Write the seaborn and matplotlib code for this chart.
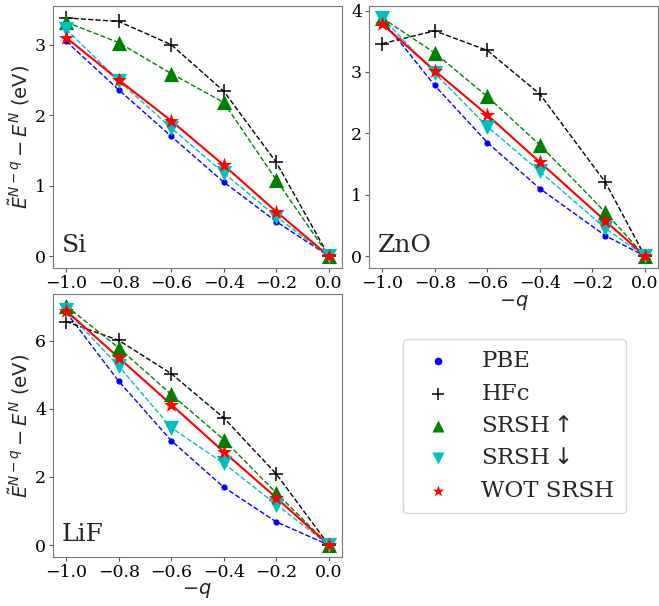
import numpy as np
import pandas as pd
import matplotlib
matplotlib.use("Agg")
import matplotlib.pyplot as plt
import seaborn as sns

# ---- data ----
methods = ["PBE", "HFc", r"SRSH$\uparrow$", r"SRSH$\downarrow$", "WOT SRSH"]

q_si = [-1.0, -0.8, -0.6, -0.4, -0.2, 0.0]
si_pbe = [3.05, 2.36, 1.70, 1.05, 0.49, 0.0]
si_hfc = [3.38, 3.33, 3.00, 2.34, 1.33, 0.0]
si_up = [3.32, 3.03, 2.59, 2.18, 1.08, 0.0]
si_down = [3.22, 2.49, 1.82, 1.18, 0.56, 0.0]
si_wot = [3.10, 2.50, 1.92, 1.29, 0.63, 0.0]

q_zno = [-1.0, -0.8, -0.6, -0.4, -0.15, 0.0]
zno_pbe = [3.85, 2.78, 1.85, 1.10, 0.33, 0.0]
zno_hfc = [3.46, 3.67, 3.35, 2.64, 1.20, 0.0]
zno_up = [3.88, 3.31, 2.60, 1.81, 0.71, 0.0]
zno_down = [3.88, 2.98, 2.11, 1.38, 0.45, 0.0]
zno_wot = [3.78, 3.02, 2.30, 1.53, 0.57, 0.0]

q_lif = [-1.0, -0.8, -0.6, -0.4, -0.2, 0.0]
lif_pbe = [6.85, 4.82, 3.07, 1.70, 0.68, 0.0]
lif_hfc = [6.57, 6.02, 5.04, 3.74, 2.09, 0.0]
lif_up = [7.03, 5.80, 4.43, 3.10, 1.53, 0.0]
lif_down = [6.90, 5.26, 3.45, 2.40, 1.19, 0.0]
lif_wot = [6.89, 5.51, 4.13, 2.74, 1.39, 0.0]

x_ticks = [-1.0, -0.8, -0.6, -0.4, -0.2, 0.0]

# style per method: colour, marker, marker size, line style, line width, legend size
styles = {
    "PBE": ("b", "o", 20, "--", 1.0, 30),
    "HFc": ("k", "+", 110, "--", 1.0, 80),
    r"SRSH$\uparrow$": ("g", "^", 120, "--", 1.0, 75),
    r"SRSH$\downarrow$": ("c", "v", 120, "--", 1.0, 75),
    "WOT SRSH": ("r", "*", 130, "-", 1.5, 75),
}

systems = [
    ("Si", q_si, [si_pbe, si_hfc, si_up, si_down, si_wot]),
    ("ZnO", q_zno, [zno_pbe, zno_hfc, zno_up, zno_down, zno_wot]),
    ("LiF", q_lif, [lif_pbe, lif_hfc, lif_up, lif_down, lif_wot]),
]

sns.set_style("ticks")
plt.rcParams["font.family"] = ["DejaVu Serif"]
plt.rcParams["axes.edgecolor"] = "#777777"
plt.rcParams["xtick.color"] = "#555555"
plt.rcParams["ytick.color"] = "#555555"
plt.rcParams["xtick.labelcolor"] = "black"
plt.rcParams["ytick.labelcolor"] = "black"

fig = plt.figure(figsize=(6.59, 6.06), dpi=100)
ax_pos = [
    [0.0804, 0.5578, 0.4385, 0.4323],
    [0.5600, 0.5578, 0.4385, 0.4323],
    [0.0804, 0.0809, 0.4385, 0.4340],
]

axes = []
for (name, q, series), pos in zip(systems, ax_pos):
    ax = fig.add_axes(pos)
    axes.append(ax)
    for m, y in zip(methods, series):
        col, mk, s, ls, lw, _ = styles[m]
        df = pd.DataFrame({"q": q, "E": y})
        sns.lineplot(data=df, x="q", y="E", color=col, linestyle=ls,
                     linewidth=lw, ax=ax, legend=False, sort=False)
        sns.scatterplot(data=df, x="q", y="E", color=col, marker=mk, s=s,
                        linewidth=1.1 if mk == "+" else 0, ax=ax, label=m,
                        zorder=3)
    ax.get_legend().remove()
    ax.text(0.03, 0.04, name, transform=ax.transAxes, fontsize=18,
            ha="left", va="bottom")
    ax.set_xticks(x_ticks)
    ax.tick_params(labelsize=12.5, length=3, pad=2)
    ax.set_xlabel("")
    ax.set_ylabel("")

ylab = r"$\tilde{E}^{N-q} - E^{N}$ (eV)"
axes[0].set_ylabel(ylab, fontsize=14, family="DejaVu Sans", labelpad=2)
axes[2].set_ylabel(ylab, fontsize=14, family="DejaVu Sans", labelpad=2)
axes[1].set_xlabel(r"$-q$", fontsize=14, labelpad=1)
axes[2].set_xlabel(r"$-q$", fontsize=14, labelpad=0)
axes[0].set_yticks([0, 1, 2, 3])
axes[1].set_yticks([0, 1, 2, 3, 4])
axes[2].set_yticks([0, 2, 4, 6])

handles, labels = axes[0].get_legend_handles_labels()
leg = fig.legend(handles, labels, loc="center", bbox_to_anchor=(0.781, 0.297),
                 fontsize=16.5, handletextpad=0.9, borderpad=0.5,
                 labelspacing=0.45, frameon=True)
for h, m in zip(leg.legend_handles, methods):
    h.set_sizes([styles[m][5]])

plt.savefig("out.png", dpi=100)
